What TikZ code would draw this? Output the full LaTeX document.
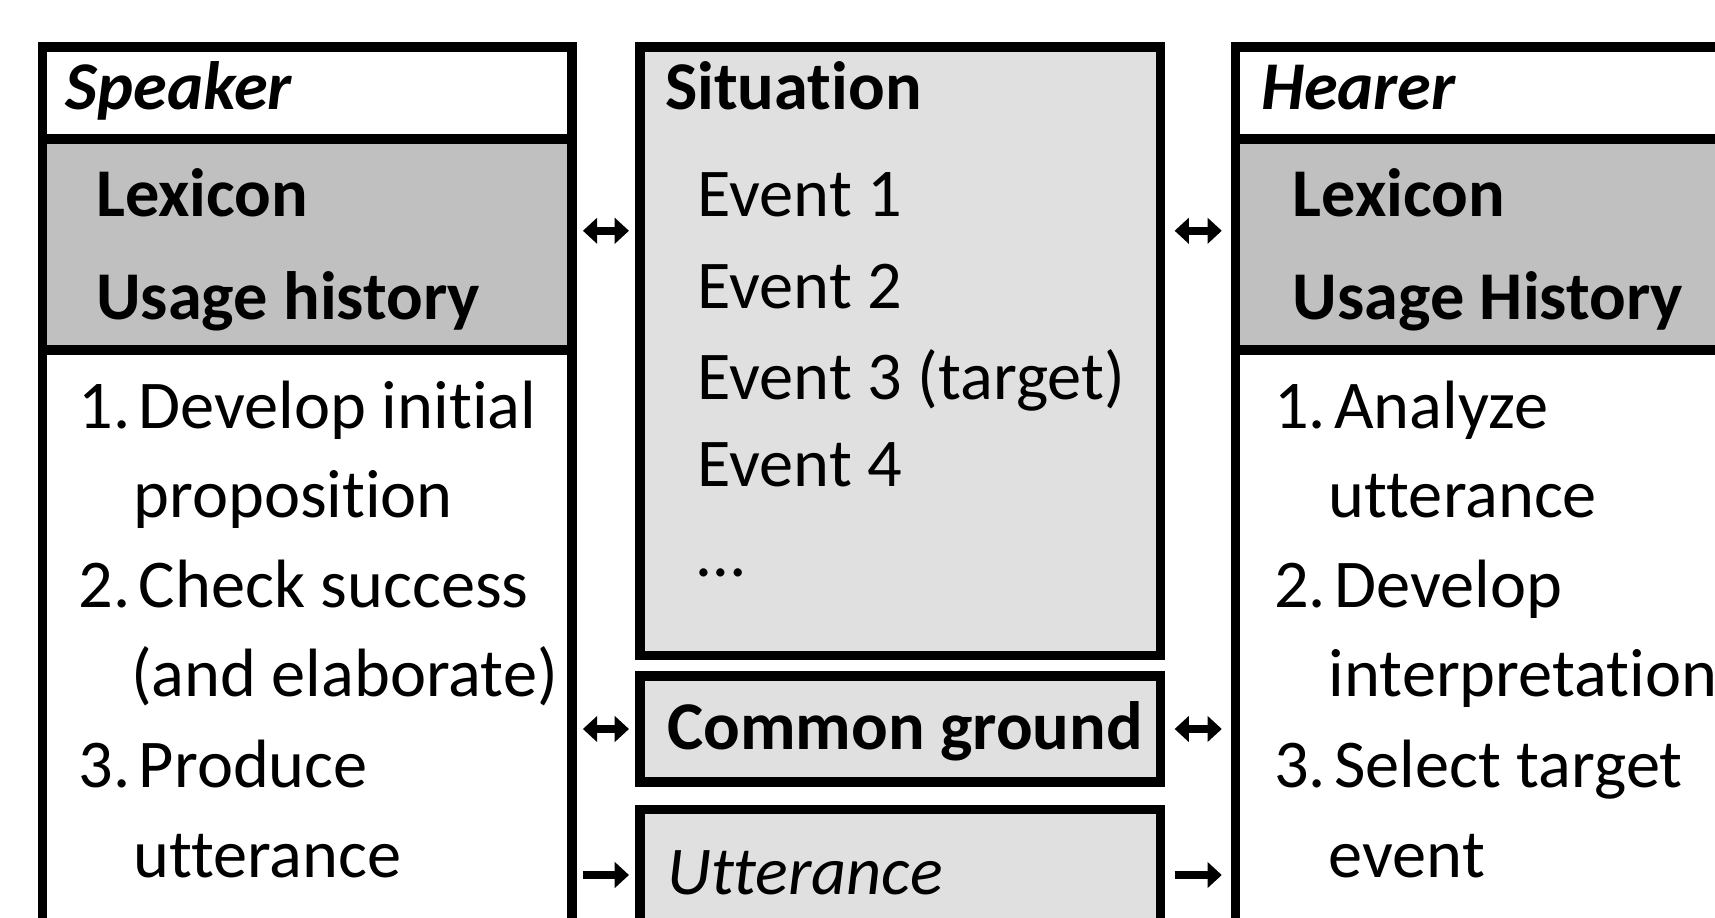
\documentclass[tikz,border=0pt]{standalone}
\usepackage{fontspec}
\setmainfont{Carlito}[Ligatures={NoCommon}]
\usetikzlibrary{arrows.meta}

\definecolor{bandgray}{RGB}{192,192,192}
\definecolor{panelgray}{RGB}{224,224,224}

\begin{document}
\begin{tikzpicture}[x=1pt,y=-1pt,
  frame/.style={draw=black, line width=8.5pt, inner sep=0pt, outer sep=0pt,
                anchor=north west},
  txt/.style={anchor=base west, inner sep=0pt, outer sep=0pt,
              font=\fontsize{62.5}{75}\selectfont},
  btxt/.style={txt, font=\fontsize{62.5}{75}\selectfont\bfseries},
  bitxt/.style={txt, font=\fontsize{62.5}{75}\selectfont\bfseries\itshape},
  itxt/.style={txt, font=\fontsize{62.5}{75}\selectfont\itshape},
  headtip/.tip={Triangle[width=24pt,length=13pt,line width=0pt]},
  twoway/.style={draw=black, line width=7.5pt, headtip-headtip},
  oneway/.style={draw=black, line width=7.5pt, -headtip}
]
\useasboundingbox (0,0) rectangle (1568,839);
\clip (0,0) rectangle (1568,839);

% Speaker column
\node[frame, fill=white, minimum width=484pt, minimum height=84pt]  (spkHead)  at (39,43)  {};
\node[frame, fill=bandgray, minimum width=484pt, minimum height=193pt] (spkLex) at (39,127) {};
\node[frame, fill=white, minimum width=484pt, minimum height=640pt] (spkSteps) at (39,320) {};

% Middle column
\node[frame, fill=panelgray, minimum width=476pt, minimum height=556pt] (sit) at (585,43)  {};
\node[frame, fill=panelgray, minimum width=476pt, minimum height=97pt]  (cg)  at (585,618) {};
\node[frame, fill=panelgray, minimum width=476pt, minimum height=300pt] (utt) at (585,740) {};

% Hearer column
\node[frame, fill=white, minimum width=600pt, minimum height=84pt]  (hrHead)  at (1129.5,43)  {};
\node[frame, fill=bandgray, minimum width=600pt, minimum height=193pt] (hrLex) at (1129.5,127) {};
\node[frame, fill=white, minimum width=600pt, minimum height=640pt] (hrSteps) at (1129.5,320) {};

% Speaker texts
\node[bitxt] (spkT)  at (60,100)  {Speaker};
\node[btxt]  (spkL1) at (88,198)  {Lexicon};
\node[btxt]  (spkL2) at (88,292)  {Usage history};
\node[txt] (sn1) at (72,392)  {1.};
\node[txt] (ss1a) at (127,392) {Develop initial};
\node[txt] (ss1b) at (122,473) {proposition};
\node[txt] (sn2) at (72,555)  {2.};
\node[txt] (ss2a) at (127,555) {Check success};
\node[txt] (ss2b) at (120,637) {(and elaborate)};
\node[txt] (sn3) at (72,720)  {3.};
\node[txt] (ss3a) at (127,720) {Produce};
\node[txt] (ss3b) at (122,802) {utterance};

% Situation texts
\node[btxt] (sitT) at (608,100) {Situation};
\node[txt] (ev1) at (638,198) {Event 1};
\node[txt] (ev2) at (638,282) {Event 2};
\node[txt] (ev3) at (638,365) {Event 3 (target)};
\node[txt] (ev4) at (638,445) {Event 4};
\node[txt] (evd) at (638,527) {…};
\node[btxt] (cgT) at (610,685) {Common ground};
\node[itxt] (uttT) at (610,818) {Utterance};

% Hearer texts
\node[bitxt] (hrT)  at (1153,100) {Hearer};
\node[btxt]  (hrL1) at (1182,198) {Lexicon};
\node[btxt]  (hrL2) at (1182,292) {Usage History};
\node[txt] (hn1) at (1165,392) {1.};
\node[txt] (hs1a) at (1220,392) {Analyze};
\node[txt] (hs1b) at (1215,473) {utterance};
\node[txt] (hn2) at (1165,555) {2.};
\node[txt] (hs2a) at (1220,555) {Develop};
\node[txt] (hs2b) at (1215,637) {interpretation};
\node[txt] (hn3) at (1165,720) {3.};
\node[txt] (hs3a) at (1220,720) {Select target};
\node[txt] (hs3b) at (1215,802) {event};

% Connectors between the columns
\draw[twoway, shorten <=10pt, shorten >=10pt] (spkLex.east |- 0,211) -- (sit.west |- 0,211);
\draw[twoway, shorten <=13pt, shorten >=12.5pt] (sit.east |- 0,211) -- (hrLex.west |- 0,211);
\draw[twoway, shorten <=10pt, shorten >=10pt] (spkSteps.east |- cg.west) -- (cg.west);
\draw[twoway, shorten <=13pt, shorten >=12.5pt] (cg.east) -- (hrSteps.west |- cg.east);
\draw[oneway, shorten <=10pt, shorten >=10pt] (spkSteps.east |- 0,800) -- (utt.west |- 0,800);
\draw[oneway, shorten <=13pt, shorten >=12.5pt] (utt.east |- 0,800) -- (hrSteps.west |- 0,800);
\end{tikzpicture}
\end{document}
